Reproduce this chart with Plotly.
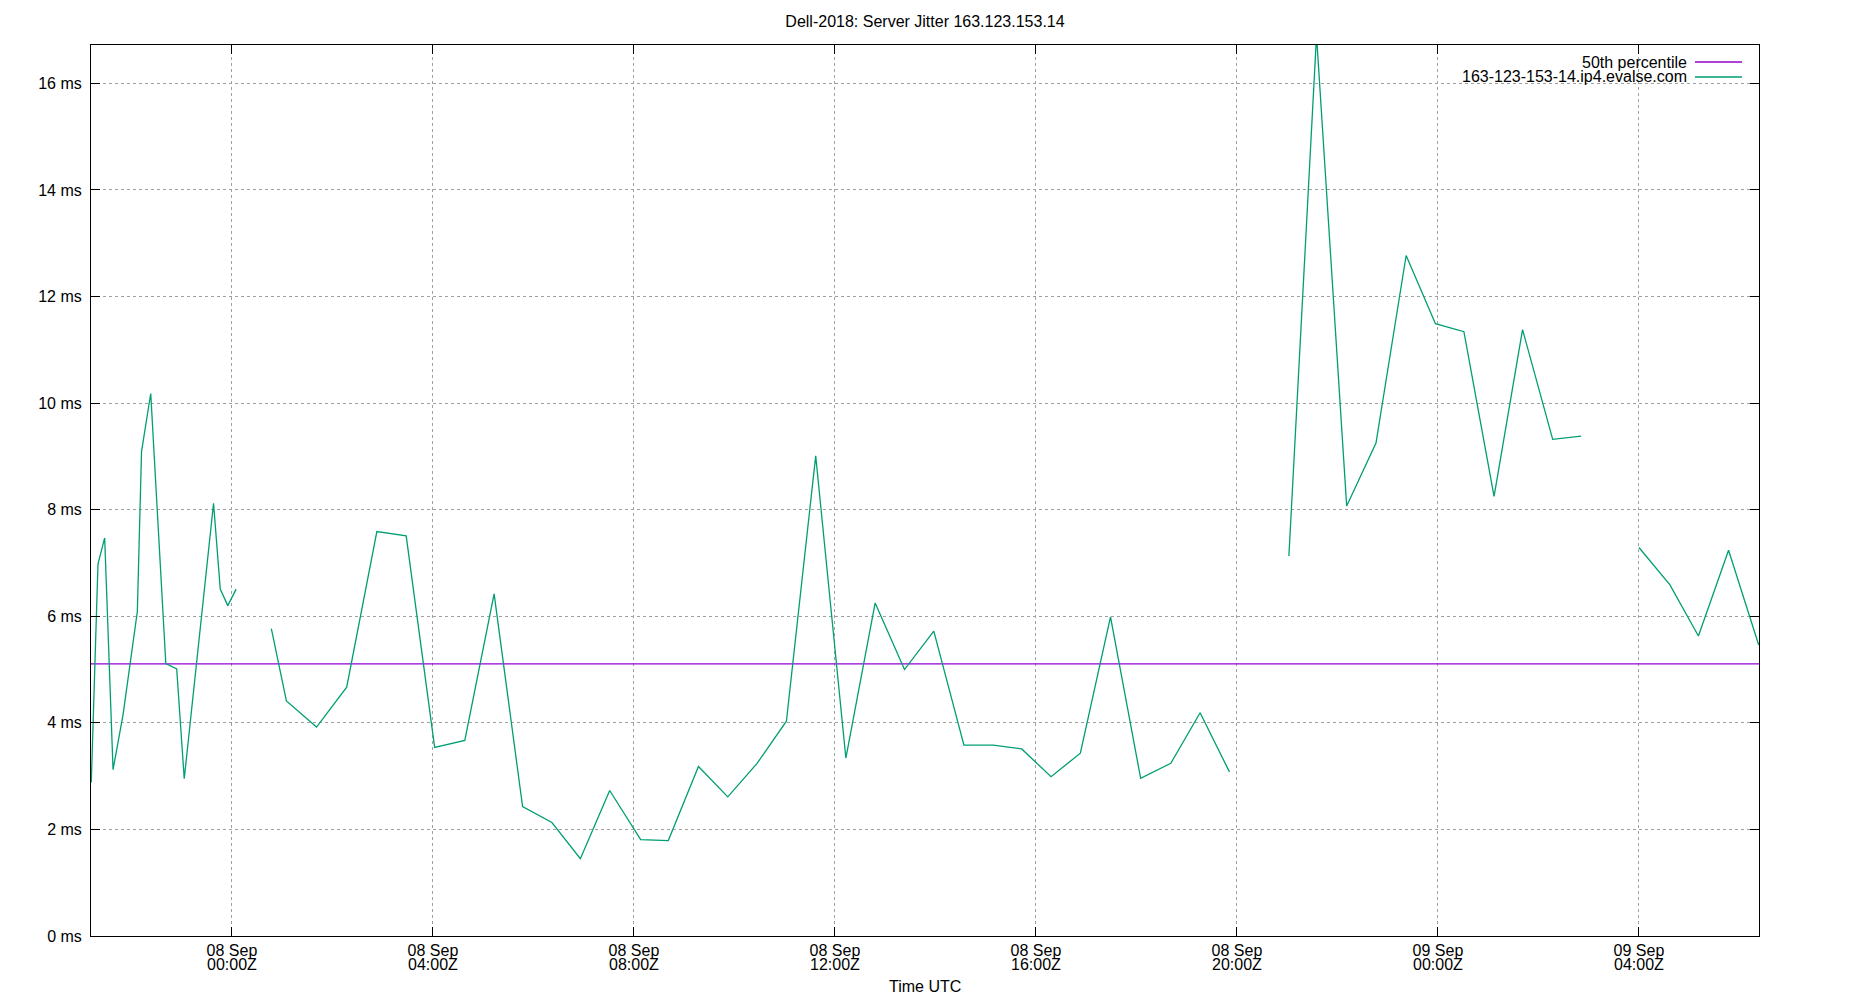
import plotly.graph_objects as go

# jitter samples (ms), None marks a gap in the data
times = [
    "2018-09-07 21:12", "2018-09-07 21:20", "2018-09-07 21:28", "2018-09-07 21:38",
    "2018-09-07 21:50", "2018-09-07 22:07", "2018-09-07 22:12", "2018-09-07 22:23",
    "2018-09-07 22:41", "2018-09-07 22:54", "2018-09-07 23:03", "2018-09-07 23:38",
    "2018-09-07 23:46", "2018-09-07 23:55", "2018-09-08 00:05",
    "2018-09-08 00:25",
    "2018-09-08 00:47", "2018-09-08 01:05", "2018-09-08 01:41", "2018-09-08 02:17",
    "2018-09-08 02:53", "2018-09-08 03:28", "2018-09-08 04:02", "2018-09-08 04:38",
    "2018-09-08 05:13", "2018-09-08 05:47", "2018-09-08 06:22", "2018-09-08 06:56",
    "2018-09-08 07:31", "2018-09-08 08:08", "2018-09-08 08:41", "2018-09-08 09:17",
    "2018-09-08 09:52", "2018-09-08 10:27", "2018-09-08 11:02", "2018-09-08 11:37",
    "2018-09-08 12:13", "2018-09-08 12:48", "2018-09-08 13:23", "2018-09-08 13:58",
    "2018-09-08 14:34", "2018-09-08 15:09", "2018-09-08 15:43", "2018-09-08 16:18",
    "2018-09-08 16:53", "2018-09-08 17:29", "2018-09-08 18:05", "2018-09-08 18:41",
    "2018-09-08 19:16", "2018-09-08 19:51",
    "2018-09-08 20:30",
    "2018-09-08 21:02", "2018-09-08 21:35", "2018-09-08 22:11", "2018-09-08 22:46",
    "2018-09-08 23:22", "2018-09-08 23:57", "2018-09-09 00:31", "2018-09-09 01:07",
    "2018-09-09 01:41", "2018-09-09 02:17", "2018-09-09 02:51",
    "2018-09-09 03:30",
    "2018-09-09 04:00", "2018-09-09 04:37", "2018-09-09 05:11", "2018-09-09 05:47",
    "2018-09-09 06:23",
]
jitter = [
    2.88, 6.98, 7.47, 3.12, 4.16, 6.09, 9.09, 10.18, 5.11, 5.01, 2.95, 8.12,
    6.51, 6.2, 6.51,
    None,
    5.77, 4.41, 3.92, 4.67, 7.59, 7.51, 3.54, 3.67, 6.42, 2.43, 2.13, 1.45,
    2.73, 1.81, 1.79, 3.18, 2.61, 3.24, 4.03, 9.01, 3.34, 6.25, 5.0, 5.72,
    3.58, 3.58, 3.51, 2.99, 3.43, 5.99, 2.96, 3.24, 4.19, 3.08,
    None,
    7.13, 16.9, 8.07, 9.25, 12.77, 11.49, 11.34, 8.25, 11.38, 9.32, 9.38,
    None,
    7.29, 6.59, 5.63, 7.24, 5.46,
]
p50 = 5.107

x_start = "2018-09-07 21:11:40"
x_end = "2018-09-09 06:23:20"

tick_vals = ["2018-09-08 00:00", "2018-09-08 04:00", "2018-09-08 08:00", "2018-09-08 12:00",
             "2018-09-08 16:00", "2018-09-08 20:00", "2018-09-09 00:00", "2018-09-09 04:00"]
tick_days = ["08 Sep", "08 Sep", "08 Sep", "08 Sep", "08 Sep", "08 Sep", "09 Sep", "09 Sep"]
tick_hours = ["00:00Z", "04:00Z", "08:00Z", "12:00Z", "16:00Z", "20:00Z", "00:00Z", "04:00Z"]
y_ticks = [0, 2, 4, 6, 8, 10, 12, 14, 16]

PURPLE = "#9400d3"
GREEN = "#009e73"
FONT = dict(family="Liberation Sans, Arial, sans-serif", size=16, color="black")

# the page body adds an 8px margin, so the figure is drawn 16px smaller
W, H = 1834, 984

fig = go.Figure()
fig.add_trace(go.Scatter(x=[x_start, x_end], y=[p50, p50], mode="lines",
                         line=dict(color=PURPLE, width=1.3), name="50th percentile"))
fig.add_trace(go.Scatter(x=times, y=jitter, mode="lines", connectgaps=False,
                         line=dict(color=GREEN, width=1.3),
                         name="163-123-153-14.ip4.evalse.com"))
# invisible trace so the second label row has an axis to live on
fig.add_trace(go.Scatter(x=[x_start], y=[0], xaxis="x2", mode="markers",
                         marker=dict(opacity=0), hoverinfo="skip", showlegend=False))

fig.update_layout(
    width=W, height=H,
    margin=dict(l=83, r=83, t=37, b=56),
    paper_bgcolor="white", plot_bgcolor="white",
    font=FONT,
    showlegend=False,
    title=dict(text="Dell-2018: Server Jitter 163.123.153.14", x=0.5, xref="container",
               y=1 - 13.5 / H, yanchor="middle", font=FONT),
    xaxis=dict(type="date", range=[x_start, x_end], tickvals=tick_vals, ticktext=tick_days,
               ticks="inside", ticklen=9, tickcolor="black", showline=True, linecolor="black",
               linewidth=1, mirror="ticks", showgrid=True, gridcolor="#a0a0a0",
               griddash="dot", gridwidth=1, zeroline=False),
    xaxis2=dict(type="date", range=[x_start, x_end], overlaying="x", side="bottom",
                tickvals=tick_vals, ticktext=tick_hours, ticks="outside", ticklen=14,
                tickcolor="rgba(0,0,0,0)", showline=False, showgrid=False, zeroline=False),
    yaxis=dict(range=[0, 16.72], tickvals=y_ticks, ticktext=[f"{v} ms" for v in y_ticks],
               ticks="inside", ticklen=9, tickcolor="black", showline=True, linecolor="black",
               linewidth=1, mirror="ticks", showgrid=True, gridcolor="#a0a0a0",
               griddash="dot", gridwidth=1, zeroline=False, ticklabelstandoff=5),
)

fig.add_annotation(text="Time UTC", xref="paper", yref="paper", x=0.5, y=-50 / 891,
                   yanchor="middle", showarrow=False, font=FONT)

# gnuplot-style key: opaque box, right-aligned text, sample line on the right
fig.add_shape(type="rect", xref="paper", yref="paper", x0=0.7986, x1=0.9958, y0=0.9529, y1=1.0,
              fillcolor="white", line=dict(width=0), layer="between")
for i, tr in enumerate(fig.data[:2]):
    yy = 0.9809 - i * 0.0168
    fig.add_annotation(text=tr.name, xref="paper", yref="paper", x=0.9578, y=yy,
                       xanchor="right", yanchor="middle", showarrow=False, font=FONT)
    fig.add_shape(type="line", xref="paper", yref="paper", x0=0.9616, x1=0.9898, y0=yy, y1=yy,
                  line=dict(color=tr.line.color, width=1.3))

fig.write_html("out.html")
